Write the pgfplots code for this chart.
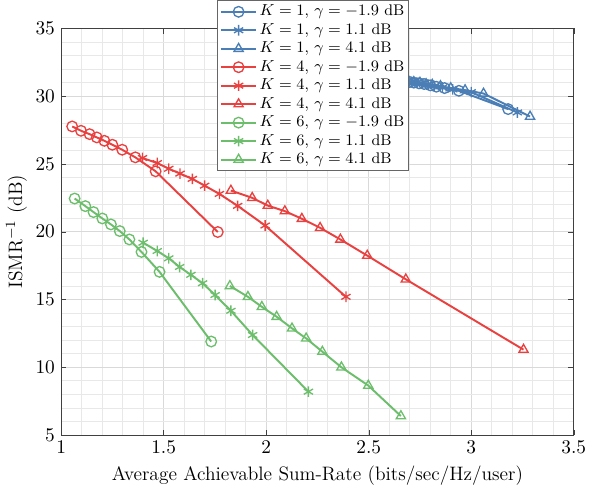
\documentclass[border=0pt]{standalone}
\usepackage{pgfplots}
\pgfplotsset{compat=1.18}
\definecolor{cb}{RGB}{74,126,180}
\definecolor{cr}{RGB}{233,64,64}
\definecolor{cg}{RGB}{108,190,108}
\begin{document}
\begin{tikzpicture}
\begin{axis}[
  scale only axis,
  width=290pt, height=230pt,
  xmin=1, xmax=3.5, ymin=5, ymax=35,
  xtick={1,1.5,2,2.5,3,3.5},
  ytick={5,10,...,35},
  minor x tick num=4, minor y tick num=4,
  grid=both,
  major grid style={gray!30, line width=0.4pt},
  minor grid style={gray!18, line width=0.4pt},
  tick align=inside,
  major tick length=3pt, minor tick length=0pt,
  axis line style={black!75, line width=0.5pt},
  tick style={black!75},
  tick label style={font=\fontsize{11}{13}\selectfont},
  label style={font=\fontsize{11}{13}\selectfont},
  xticklabel style={/pgf/number format/fixed},
  xlabel={Average Achievable Sum-Rate (bits/sec/Hz/user)},
  ylabel={ISMR$^{-1}$ (dB)},
  xlabel style={yshift=0pt},
  ylabel style={yshift=-2pt},
  legend cell align=left,
  legend style={at={(rel axis cs:0.305,1.07)}, anchor=north west, draw=black!60, fill=white, line width=0.5pt, inner sep=1.2pt, font=\fontsize{8.7}{10}\selectfont, nodes={inner sep=1.4pt}},
  legend image code/.code={\draw[mark repeat=2,mark phase=2] plot coordinates {(0cm,0cm)(0.35cm,0cm)(0.7cm,0cm)};},
  every axis plot/.append style={line width=1.1pt, mark size=3pt, mark options={solid, line width=0.75pt, fill=none}},
]
% K=1
\addplot[color=cb, mark=o] coordinates {(2.675,31.1)(2.70,31.05)(2.72,31.0)(2.745,30.95)(2.77,30.9)(2.80,30.8)(2.83,30.7)(2.87,30.6)(2.94,30.4)(3.18,29.05)};
\addlegendentry{$K=1$, $\gamma=-1.9$ dB}
\addplot[color=cb, mark=asterisk] coordinates {(2.685,31.1)(2.71,31.05)(2.735,31.0)(2.76,30.95)(2.79,30.85)(2.82,30.75)(2.86,30.65)(2.91,30.5)(3.0,30.3)(3.225,28.8)};
\addlegendentry{$K=1$, $\gamma=1.1$ dB}
\addplot[color=cb, mark=triangle] coordinates {(2.695,31.1)(2.72,31.05)(2.75,31.0)(2.78,30.9)(2.81,30.85)(2.85,30.75)(2.90,30.6)(2.97,30.45)(3.06,30.2)(3.287,28.5)};
\addlegendentry{$K=1$, $\gamma=4.1$ dB}
% K=4
\addplot[color=cr, mark=o] coordinates {(1.054,27.77)(1.097,27.45)(1.139,27.2)(1.174,26.96)(1.211,26.71)(1.25,26.42)(1.298,26.05)(1.362,25.49)(1.461,24.46)(1.764,19.98)};
\addlegendentry{$K=4$, $\gamma=-1.9$ dB}
\addplot[color=cr, mark=asterisk] coordinates {(1.397,25.44)(1.469,25.07)(1.525,24.65)(1.580,24.29)(1.640,23.90)(1.700,23.40)(1.772,22.79)(1.861,21.91)(1.995,20.46)(2.389,15.2)};
\addlegendentry{$K=4$, $\gamma=1.1$ dB}
\addplot[color=cr, mark=triangle] coordinates {(1.828,23.04)(1.932,22.5)(2.008,21.93)(2.091,21.52)(2.174,20.96)(2.263,20.29)(2.362,19.43)(2.493,18.24)(2.681,16.49)(3.255,11.3)};
\addlegendentry{$K=4$, $\gamma=4.1$ dB}
% K=6
\addplot[color=cg, mark=o] coordinates {(1.066,22.45)(1.118,21.89)(1.158,21.45)(1.201,20.98)(1.243,20.54)(1.286,20.05)(1.333,19.43)(1.392,18.51)(1.480,17.04)(1.732,11.9)};
\addlegendentry{$K=6$, $\gamma=-1.9$ dB}
\addplot[color=cg, mark=asterisk] coordinates {(1.400,19.19)(1.469,18.58)(1.525,18.04)(1.578,17.40)(1.633,16.82)(1.690,16.2)(1.751,15.33)(1.828,14.17)(1.934,12.38)(2.206,8.2)};
\addlegendentry{$K=6$, $\gamma=1.1$ dB}
\addplot[color=cg, mark=triangle] coordinates {(1.823,16.0)(1.911,15.2)(1.979,14.46)(2.051,13.73)(2.126,12.87)(2.195,12.13)(2.274,11.15)(2.367,10.0)(2.498,8.65)(2.657,6.4)};
\addlegendentry{$K=6$, $\gamma=4.1$ dB}
\end{axis}
\end{tikzpicture}
\end{document}
